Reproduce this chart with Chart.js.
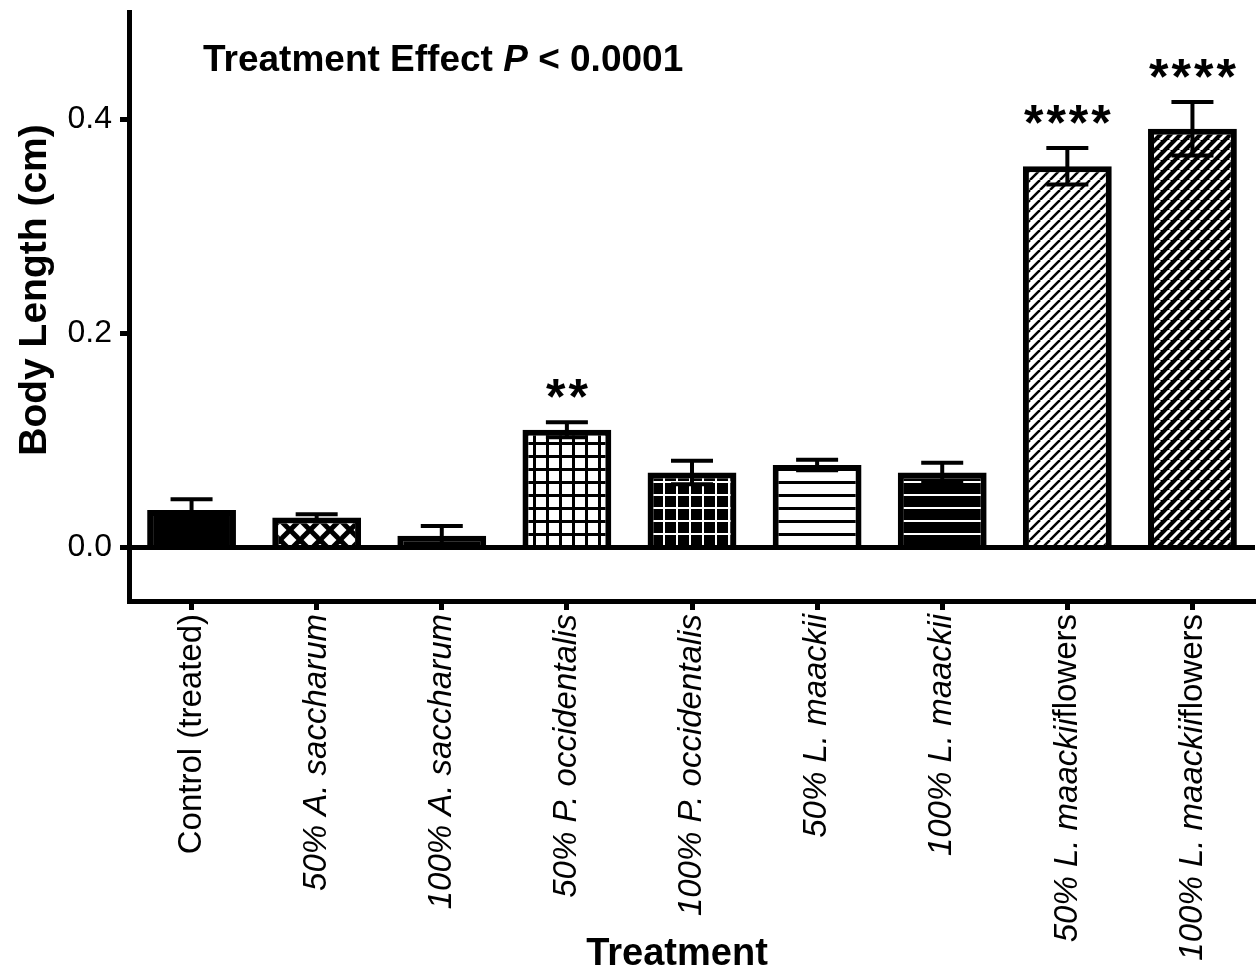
<!DOCTYPE html>
<html>
<head>
<meta charset="utf-8">
<script src="https://cdn.jsdelivr.net/npm/chart.js@4/dist/chart.umd.min.js"></script>
<style>
  html, body { margin: 0; padding: 0; background: #fff; }
  #wrap { width: 1259px; height: 975px; }
</style>
</head>
<body>
<div id="wrap"><canvas id="chart" width="1259" height="975"></canvas></div>
<script>
const FONT = '"Liberation Sans", Arial, Helvetica, sans-serif';

// data
const categories = [
  'Control (treated)',
  '50% A. saccharum',
  '100% A. saccharum',
  '50% P. occidentalis',
  '100% P. occidentalis',
  '50% L. maackii',
  '100% L. maackii',
  '50% L. maackiiflowers',
  '100% L. maackiiflowers'
];
const means = [0.035, 0.028, 0.011, 0.110, 0.070, 0.077, 0.070, 0.356, 0.391];
const sems  = [0.010, 0.003, 0.009, 0.007, 0.011, 0.005, 0.009, 0.017, 0.025];
const stars = ['', '', '', '**', '', '', '', '****', '****'];
const yTicks = [0, 0.2, 0.4];
const fills = ['solid', 'diamond', 'dash', 'grid', 'gridInv', 'hline', 'hlineInv', 'diag', 'diagInv'];

function makePattern(kind) {
  if (kind === 'solid') return '#000';
  const c = document.createElement('canvas');
  let s = 13;
  if (kind === 'diamond') s = 20;
  if (kind === 'dash') s = 16;
  if (kind === 'diag' || kind === 'diagInv') s = 10;
  c.width = s; c.height = s;
  const g = c.getContext('2d');
  const inv = kind.endsWith('Inv') || kind === 'dash';
  g.fillStyle = inv ? '#000' : '#fff';
  g.fillRect(0, 0, s, s);
  g.fillStyle = inv ? '#fff' : '#000';
  g.strokeStyle = inv ? '#fff' : '#000';
  if (kind === 'grid') { g.fillRect(0, 0, s, 3); g.fillRect(0, 0, 3, s); }
  if (kind === 'gridInv') { g.fillRect(0, 0, s, 2); g.fillRect(0, 0, 2, s); }
  if (kind === 'hline') g.fillRect(0, 0, s, 3);
  if (kind === 'hlineInv') g.fillRect(0, 0, s, 2);
  if (kind === 'dash') g.fillRect(3, 7, 10, 2);
  if (kind === 'diamond') {
    g.lineWidth = 5;
    for (const o of [-s, 0, s]) {
      g.beginPath(); g.moveTo(o, s); g.lineTo(o + s, 0); g.stroke();
      g.beginPath(); g.moveTo(o, 0); g.lineTo(o + s, s); g.stroke();
    }
  }
  if (kind === 'diag' || kind === 'diagInv') {
    g.lineWidth = kind === 'diag' ? 2.5 : 3;
    for (const o of [-s, 0, s]) {
      g.beginPath(); g.moveTo(o, s); g.lineTo(o + s, 0); g.stroke();
    }
  }
  return g.createPattern(c, 'repeat');
}

const extras = {
  id: 'extras',
  afterDatasetsDraw(chart) {
    const ctx = chart.ctx;
    const x = chart.scales.x, y = chart.scales.y;
    const area = chart.chartArea;
    const meta = chart.getDatasetMeta(0);
    ctx.save();
    ctx.fillStyle = '#000';
    ctx.strokeStyle = '#000';

    // zero line
    const y0 = y.getPixelForValue(0);
    ctx.lineWidth = 5;
    ctx.beginPath(); ctx.moveTo(area.left - 9, y0); ctx.lineTo(area.right, y0); ctx.stroke();

    // error bars + significance stars
    meta.data.forEach((bar, i) => {
      const hi = y.getPixelForValue(means[i] + sems[i]);
      const lo = y.getPixelForValue(means[i] - sems[i]);
      ctx.lineWidth = 4;
      ctx.beginPath(); ctx.moveTo(bar.x, hi); ctx.lineTo(bar.x, lo); ctx.stroke();
      ctx.beginPath();
      ctx.moveTo(bar.x - 21, hi); ctx.lineTo(bar.x + 21, hi);
      ctx.moveTo(bar.x - 21, lo); ctx.lineTo(bar.x + 21, lo);
      ctx.stroke();
      if (stars[i]) {
        ctx.save();
        ctx.font = 'bold 50px ' + FONT;
        ctx.letterSpacing = '3px';
        ctx.textAlign = 'center';
        ctx.textBaseline = 'alphabetic';
        ctx.fillText(stars[i], bar.x + 1.5, hi - 8);
        ctx.restore();
      }
    });

    // x tick labels, species names in italics
    categories.forEach((lab, i) => {
      const px = x.getPixelForValue(i);
      let parts;
      if (lab.startsWith('Control')) parts = [[lab, false]];
      else if (lab.endsWith('flowers')) parts = [[lab.slice(0, -7), true], ['flowers', false]];
      else parts = [[lab, true]];
      ctx.save();
      ctx.translate(px, area.bottom + 13);
      ctx.rotate(-Math.PI / 2);
      ctx.textBaseline = 'middle';
      ctx.textAlign = 'left';
      const fonts = parts.map(p => (p[1] ? 'italic ' : '') + '33px ' + FONT);
      let total = 0;
      parts.forEach((p, k) => { ctx.font = fonts[k]; total += ctx.measureText(p[0]).width; });
      let cx = -total;
      parts.forEach((p, k) => {
        ctx.font = fonts[k];
        ctx.fillText(p[0], cx, 0);
        cx += ctx.measureText(p[0]).width;
      });
      ctx.restore();
    });

    // axis titles
    ctx.textAlign = 'center';
    ctx.textBaseline = 'alphabetic';
    ctx.font = 'bold 38px ' + FONT;
    ctx.fillText('Treatment', 677, 965);
    ctx.save();
    ctx.translate(46, 290);
    ctx.rotate(-Math.PI / 2);
    ctx.font = 'bold 39px ' + FONT;
    ctx.fillText('Body Length (cm)', 0, 0);
    ctx.restore();

    // annotation
    ctx.textAlign = 'left';
    let tx = 203;
    const ann = [['Treatment Effect ', 'bold '], ['P', 'italic bold '], [' < 0.0001', 'bold ']];
    ann.forEach(a => {
      ctx.font = a[1] + '37px ' + FONT;
      ctx.fillText(a[0], tx, 71);
      tx += ctx.measureText(a[0]).width;
    });
    ctx.restore();
  }
};

new Chart(document.getElementById('chart'), {
  type: 'bar',
  data: {
    labels: categories,
    datasets: [{
      data: means,
      backgroundColor: fills.map(makePattern),
      borderColor: '#000',
      borderWidth: 6,
      borderSkipped: 'start',
      barPercentage: 0.71,
      categoryPercentage: 1
    }]
  },
  options: {
    responsive: false,
    animation: false,
    layout: { padding: { top: 12, right: 4, left: 0, bottom: 0 } },
    plugins: { legend: { display: false }, tooltip: { enabled: false } },
    scales: {
      x: {
        afterFit: s => { s.height = 374; s.paddingLeft = 0; s.paddingRight = 0; },
        ticks: { display: false },
        grid: { offset: false, drawOnChartArea: false, drawTicks: true, tickLength: 9, tickWidth: 5, tickColor: '#000' },
        border: { display: true, color: '#000', width: 5 }
      },
      y: {
        min: -0.05,
        max: 0.5,
        afterFit: s => { s.width = 129; s.paddingTop = 0; s.paddingBottom = 0; },
        afterBuildTicks: s => { s.ticks = yTicks.map(v => ({ value: v })); },
        ticks: {
          color: '#000',
          padding: 8,
          font: { family: FONT, size: 32 },
          callback: v => v.toFixed(1)
        },
        grid: { drawOnChartArea: false, drawTicks: true, tickLength: 9, tickWidth: 5, tickColor: '#000' },
        border: { display: true, color: '#000', width: 5 }
      }
    }
  },
  plugins: [extras]
});
</script>
</body>
</html>
